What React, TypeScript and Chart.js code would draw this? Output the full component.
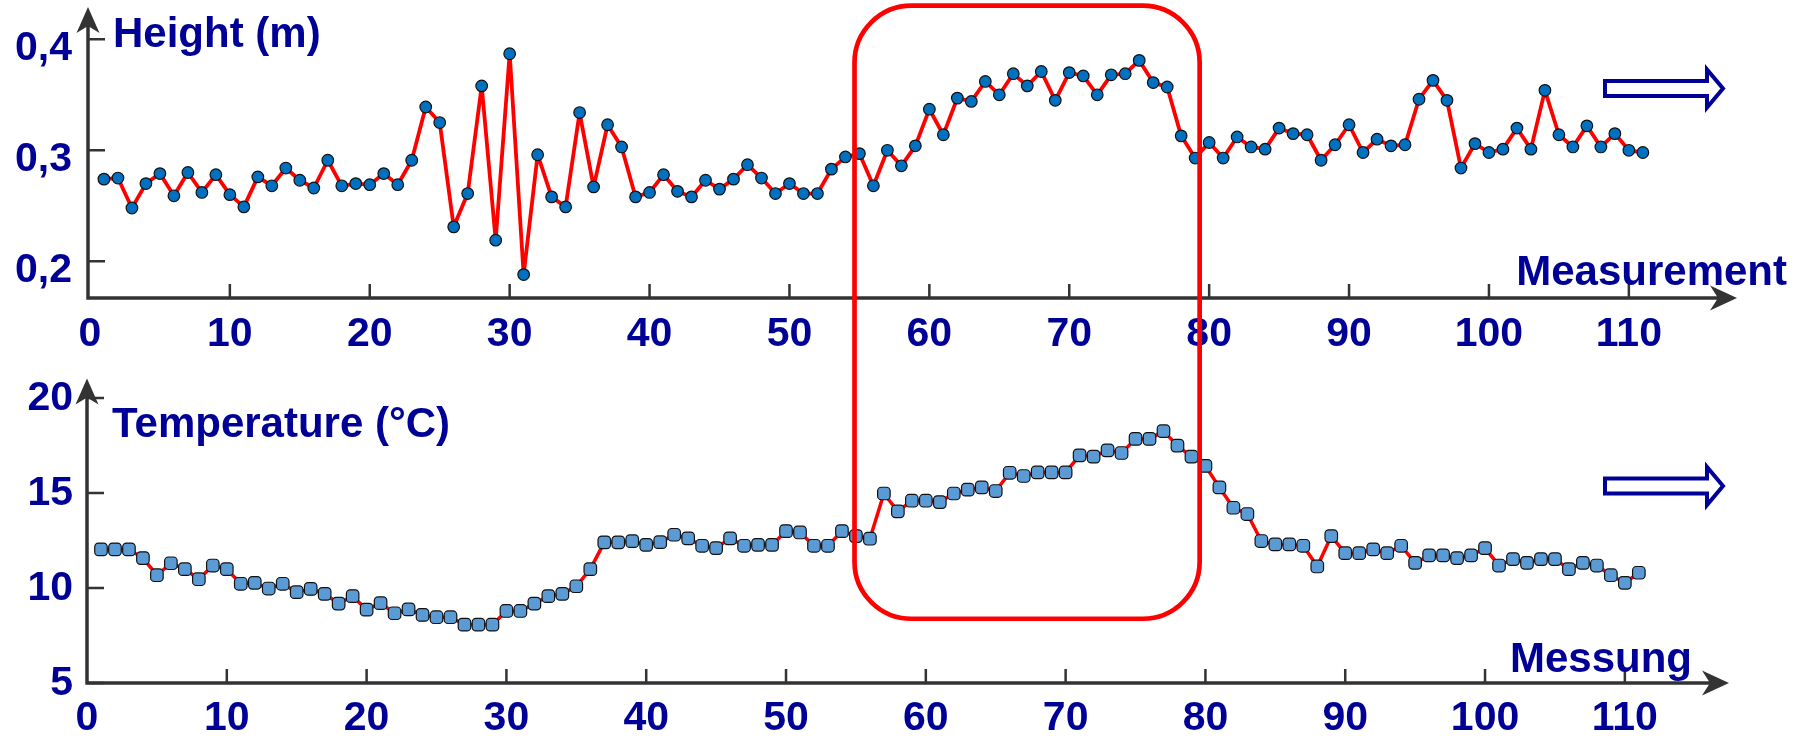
import React, { useEffect, useRef } from 'react';
import { Chart, registerables } from 'chart.js';

Chart.register(...registerables);

// ---------- data ----------
const MEASUREMENTS = Array.from({ length: 111 }, (_, i) => i + 1);

const HEIGHT_M = [
  0.274, 0.275, 0.248, 0.270, 0.279, 0.259, 0.280, 0.262, 0.278, 0.260,
  0.249, 0.276, 0.268, 0.284, 0.273, 0.266, 0.291, 0.268, 0.270, 0.269,
  0.279, 0.269, 0.291, 0.339, 0.325, 0.231, 0.261, 0.358, 0.219, 0.387,
  0.188, 0.296, 0.258, 0.249, 0.334, 0.267, 0.323, 0.303, 0.258, 0.262,
  0.278, 0.263, 0.258, 0.273, 0.265, 0.274, 0.287, 0.275, 0.261, 0.270,
  0.261, 0.261, 0.283, 0.294, 0.297, 0.268, 0.300, 0.286, 0.304, 0.337,
  0.314, 0.347, 0.344, 0.362, 0.350, 0.369, 0.358, 0.371, 0.345, 0.370,
  0.367, 0.350, 0.368, 0.369, 0.381, 0.361, 0.357, 0.313, 0.293, 0.307,
  0.293, 0.312, 0.303, 0.301, 0.320, 0.315, 0.314, 0.291, 0.305, 0.323,
  0.298, 0.310, 0.304, 0.305, 0.346, 0.363, 0.345, 0.284, 0.306, 0.298,
  0.301, 0.320, 0.301, 0.354, 0.314, 0.303, 0.322, 0.303, 0.315, 0.300,
  0.298,
];

const TEMPERATURE_C = [
  12.03, 12.03, 12.03, 11.57, 10.67, 11.30, 10.99, 10.46, 11.18, 10.99,
  10.22, 10.27, 9.97, 10.22, 9.78, 9.95, 9.69, 9.18, 9.57, 8.86,
  9.20, 8.67, 8.87, 8.58, 8.46, 8.46, 8.07, 8.07, 8.07, 8.79,
  8.79, 9.18, 9.57, 9.69, 10.09, 10.99, 12.40, 12.40, 12.46, 12.27,
  12.41, 12.80, 12.61, 12.22, 12.10, 12.61, 12.22, 12.27, 12.27, 12.99,
  12.92, 12.22, 12.22, 12.99, 12.73, 12.59, 14.97, 14.03, 14.59, 14.59,
  14.52, 14.97, 15.17, 15.29, 15.10, 16.06, 15.89, 16.08, 16.08, 16.08,
  16.98, 16.91, 17.24, 17.10, 17.84, 17.84, 18.25, 17.49, 16.91, 16.42,
  15.29, 14.22, 13.89, 12.47, 12.29, 12.29, 12.22, 11.13, 12.73, 11.83,
  11.83, 12.03, 11.83, 12.22, 11.32, 11.71, 11.71, 11.57, 11.71, 12.10,
  11.18, 11.52, 11.32, 11.52, 11.52, 10.99, 11.32, 11.18, 10.67, 10.27,
  10.80,
];

const X_TICKS = [0, 10, 20, 30, 40, 50, 60, 70, 80, 90, 100, 110];
const HEIGHT_TICKS = [0.2, 0.3, 0.4];
const TEMP_TICKS = [5, 10, 15, 20];

const TITLE_HEIGHT = 'Height (m)';
const TITLE_HEIGHT_X = 'Measurement';
const TITLE_TEMP = 'Temperature (°C)';
const TITLE_TEMP_X = 'Messung';

// highlighted measurement range (red rounded frame)
const HIGHLIGHT_FROM = 54.65;
const HIGHLIGHT_TO = 79.32;
const HIGHLIGHT_HEIGHT_TOP = 0.4303;
const HIGHLIGHT_TEMP_LOW = 8.38;

// ---------- style ----------
const NAVY = '#000096';
const AXIS = '#333333';
const FONT = "'Liberation Sans', Arial, Helvetica, sans-serif";
const W = 1804;
const PANEL_H = 370;

const arrowAxesPlugin = {
  id: 'arrowAxes',
  beforeDatasetsDraw(chart: any) {
    const { ctx, chartArea: a, scales } = chart;
    const xs = scales.x;
    const ys = scales.y;
    ctx.save();
    ctx.strokeStyle = AXIS;
    ctx.fillStyle = AXIS;
    ctx.lineJoin = 'miter';
    ctx.lineWidth = 3.5;
    ctx.beginPath();
    ctx.moveTo(a.left, a.top + 16);
    ctx.lineTo(a.left, a.bottom);
    ctx.lineTo(a.right - 16, a.bottom);
    ctx.stroke();

    ctx.lineWidth = 2.5;
    ctx.beginPath();
    for (const t of ys.ticks) {
      const py = ys.getPixelForValue(t.value);
      ctx.moveTo(a.left, py);
      ctx.lineTo(a.left + 17, py);
    }
    for (const t of xs.ticks) {
      const px = xs.getPixelForValue(t.value);
      if (px - a.left < 4) continue;
      ctx.moveTo(px, a.bottom);
      ctx.lineTo(px, a.bottom - 14);
    }
    ctx.stroke();

    // up arrow head
    ctx.beginPath();
    ctx.moveTo(a.left, a.top);
    ctx.lineTo(a.left - 11.5, a.top + 26);
    ctx.lineTo(a.left, a.top + 19);
    ctx.lineTo(a.left + 11.5, a.top + 26);
    ctx.closePath();
    ctx.fill();
    // right arrow head
    ctx.beginPath();
    ctx.moveTo(a.right, a.bottom);
    ctx.lineTo(a.right - 27, a.bottom - 12.5);
    ctx.lineTo(a.right - 19, a.bottom);
    ctx.lineTo(a.right - 27, a.bottom + 12.5);
    ctx.closePath();
    ctx.fill();
    ctx.restore();
  },
};

const titlesPlugin = {
  id: 'panelTitles',
  afterDraw(chart: any, _args: any, opts: any) {
    const ctx = chart.ctx;
    ctx.save();
    ctx.font = `bold 42px ${FONT}`;
    ctx.fillStyle = NAVY;
    ctx.textBaseline = 'alphabetic';
    for (const it of opts.items || []) {
      ctx.textAlign = it.align;
      ctx.fillText(it.text, it.x, it.y);
    }
    ctx.restore();
  },
};

function makeConfig(p: any): any {
  const tickFont = { family: FONT, size: 41, weight: 'bold' };
  return {
    type: 'line',
    data: {
      datasets: [
        {
          data: MEASUREMENTS.map((m, i) => ({ x: m, y: p.values[i] })),
          borderColor: '#ff0000',
          borderWidth: p.lineWidth,
          borderJoinStyle: 'round',
          borderCapStyle: 'round',
          pointStyle: p.pointStyle,
          pointRadius: p.pointRadius,
          pointBackgroundColor: p.pointColor,
          pointBorderColor: '#111111',
          pointBorderWidth: 1.2,
          tension: 0,
          fill: false,
        },
      ],
    },
    options: {
      responsive: false,
      animation: false,
      events: [],
      layout: { padding: { top: p.padTop, right: p.padRight, left: 0, bottom: 0 } },
      plugins: {
        legend: { display: false },
        tooltip: { enabled: false },
        title: { display: false },
        panelTitles: { items: p.titles },
      },
      scales: {
        x: {
          type: 'linear',
          min: p.xMin,
          max: p.xMax,
          grid: { display: false, drawTicks: false },
          border: { display: false },
          afterBuildTicks: (s: any) => {
            s.ticks = X_TICKS.map((v) => ({ value: v }));
          },
          ticks: {
            font: tickFont,
            color: NAVY,
            padding: p.xPad,
            maxRotation: 0,
            autoSkip: false,
            callback: (v: any) => String(v),
          },
          afterFit: (s: any) => {
            s.height = p.xHeight;
            s.paddingLeft = 0;
            s.paddingRight = 0;
          },
        },
        y: {
          type: 'linear',
          min: p.yMin,
          max: p.yMax,
          grid: { display: false, drawTicks: false },
          border: { display: false },
          afterBuildTicks: (s: any) => {
            s.ticks = p.yTicks.map((v: number) => ({ value: v }));
          },
          ticks: {
            font: tickFont,
            color: NAVY,
            padding: p.yPad,
            labelOffset: p.labelOffset,
            callback: p.fmt,
          },
          afterFit: (s: any) => {
            s.width = p.yWidth;
            s.paddingTop = 0;
            s.paddingBottom = 0;
          },
        },
      },
    },
    plugins: [arrowAxesPlugin, titlesPlugin],
  };
}

function drawOverlay(cv: HTMLCanvasElement, top: any, bot: any) {
  const ctx = cv.getContext('2d');
  if (!ctx) return;
  ctx.clearRect(0, 0, cv.width, cv.height);

  // red rounded frame
  const xL = top.scales.x.getPixelForValue(HIGHLIGHT_FROM);
  const xR = top.scales.x.getPixelForValue(HIGHLIGHT_TO);
  const yT = top.scales.y.getPixelForValue(HIGHLIGHT_HEIGHT_TOP);
  const yB = PANEL_H + bot.scales.y.getPixelForValue(HIGHLIGHT_TEMP_LOW);
  const r = 57;
  ctx.save();
  ctx.strokeStyle = '#ff0000';
  ctx.lineWidth = 4.7;
  ctx.beginPath();
  ctx.moveTo(xL + r, yT);
  ctx.arcTo(xR, yT, xR, yB, r);
  ctx.arcTo(xR, yB, xL, yB, r);
  ctx.arcTo(xL, yB, xL, yT, r);
  ctx.arcTo(xL, yT, xR, yT, r);
  ctx.closePath();
  ctx.stroke();
  ctx.restore();

  // hollow block arrows
  const hollowArrow = (cy: number) => {
    const x0 = 1605;
    const xh = 1707;
    const xt = 1723;
    ctx.save();
    ctx.strokeStyle = NAVY;
    ctx.fillStyle = '#ffffff';
    ctx.lineWidth = 4;
    ctx.lineJoin = 'miter';
    ctx.beginPath();
    ctx.moveTo(x0, cy - 7.5);
    ctx.lineTo(xh, cy - 7.5);
    ctx.lineTo(xh, cy - 19);
    ctx.lineTo(xt, cy);
    ctx.lineTo(xh, cy + 19);
    ctx.lineTo(xh, cy + 7.5);
    ctx.lineTo(x0, cy + 7.5);
    ctx.closePath();
    ctx.fill();
    ctx.stroke();
    ctx.restore();
  };
  hollowArrow(88.5);
  hollowArrow(486);
}

export default function App() {
  const topRef = useRef<HTMLCanvasElement>(null);
  const botRef = useRef<HTMLCanvasElement>(null);
  const ovRef = useRef<HTMLCanvasElement>(null);

  useEffect(() => {
    if (!topRef.current || !botRef.current || !ovRef.current) return;
    const comma = (v: any) => Number(v).toFixed(1).replace('.', ',');
    const top = new Chart(
      topRef.current,
      makeConfig({
        values: HEIGHT_M,
        lineWidth: 3.8,
        pointStyle: 'circle',
        pointRadius: 5.8,
        pointColor: '#0070c0',
        padTop: 7,
        padRight: W - 1737,
        xMin: -0.14,
        xMax: 117.73,
        xHeight: PANEL_H - 298,
        xPad: 12,
        yMin: 0.1669,
        yMax: 0.4291,
        yTicks: HEIGHT_TICKS,
        yWidth: 88,
        yPad: 16,
        labelOffset: 9,
        fmt: comma,
        titles: [
          { text: TITLE_HEIGHT, x: 113, y: 46.7, align: 'left' },
          { text: TITLE_HEIGHT_X, x: 1787, y: 285, align: 'right' },
        ],
      })
    );
    const bot = new Chart(
      botRef.current,
      makeConfig({
        values: TEMPERATURE_C,
        lineWidth: 3.5,
        pointStyle: 'rectRounded',
        pointRadius: 7.3,
        pointColor: '#5b9bd5',
        padTop: 0,
        padRight: W - 1729,
        xMin: 0,
        xMax: 117.45,
        xHeight: PANEL_H - 313,
        xPad: 11,
        yMin: 5,
        yMax: 21.02,
        yTicks: TEMP_TICKS,
        yWidth: 87,
        yPad: 14,
        labelOffset: 1,
        fmt: (v: any) => String(v),
        titles: [
          { text: TITLE_TEMP, x: 112, y: 66.7, align: 'left' },
          { text: TITLE_TEMP_X, x: 1692, y: 301.7, align: 'right' },
        ],
      })
    );
    drawOverlay(ovRef.current, top, bot);
    return () => {
      top.destroy();
      bot.destroy();
    };
  }, []);

  return (
    <div
      style={{
        position: 'absolute',
        left: 0,
        top: 0,
        width: W,
        height: 2 * PANEL_H,
        background: '#ffffff',
        overflow: 'hidden',
      }}
    >
      <canvas
        ref={topRef}
        width={W}
        height={PANEL_H}
        style={{ position: 'absolute', left: 0, top: 0, width: W, height: PANEL_H }}
      />
      <canvas
        ref={botRef}
        width={W}
        height={PANEL_H}
        style={{ position: 'absolute', left: 0, top: PANEL_H, width: W, height: PANEL_H }}
      />
      <canvas
        ref={ovRef}
        width={W}
        height={2 * PANEL_H}
        style={{
          position: 'absolute',
          left: 0,
          top: 0,
          width: W,
          height: 2 * PANEL_H,
          pointerEvents: 'none',
        }}
      />
    </div>
  );
}
